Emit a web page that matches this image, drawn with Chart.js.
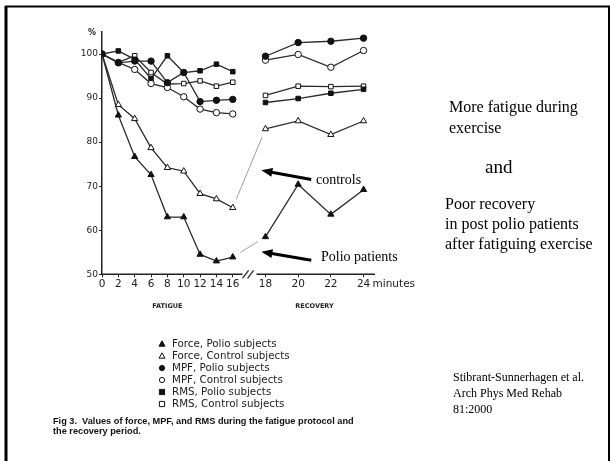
<!DOCTYPE html>
<html>
<head>
<meta charset="utf-8">
<script src="https://cdn.jsdelivr.net/npm/chart.js@4.4.0/dist/chart.umd.min.js"></script>
<style>
  body { margin: 0; background: #fff; }
  canvas { display: block; }
</style>
</head>
<body>
<canvas id="grafico" width="612" height="461"></canvas>
<script>
// Dados do gráfico (minutos e % do valor inicial)
const minutes = [0, 2, 4, 6, 8, 10, 12, 14, 16, 18, 20, 22, 24];
const forcePolio   = [100, 86.1, 76.7, 72.6, 63.0, 63.0, 54.5, 53.0, 53.9, 58.5, 70.4, 63.6, 69.2];
const forceControl = [100, 88.5, 85.3, 78.7, 74.2, 73.4, 68.3, 67.1, 65.1, 83.0, 84.8, 81.7, 84.8];
const mpfPolio     = [100, 98.0, 98.4, 98.4, 93.5, 95.8, 89.2, 89.5, 89.7, 99.5, 102.6, 102.9, 103.6];
const mpfControl   = [100, 98.1, 96.5, 93.3, 92.4, 90.3, 87.5, 86.7, 86.4, 98.6, 99.9, 97.0, 100.8];
const rmsPolio     = [100, 100.7, 98.8, 94.4, 99.6, 95.8, 96.2, 97.7, 96.0, 89.0, 89.9, 91.1, 92.0];
const rmsControl   = [100, 98.1, 99.6, 95.8, 93.2, 93.3, 93.9, 92.7, 93.6, 90.6, 92.7, 92.6, 92.7];
const yTicks = [50, 60, 70, 80, 90, 100];
const lastFatigue = 8; // índice do minuto 16 (antes da quebra do eixo)

// Eixo com quebra: a fase de recuperação tem o dobro da escala
function pos(t) {
  return t <= 16 ? t : 20 + (t - 18) * 2;
}
function pontos(valores) {
  return valores.map((v, i) => ({ x: pos(minutes[i]), y: v }));
}

const linha = '#2a2a2a';
function serie(label, valores, estilo, cheio, liga) {
  return {
    label: label,
    data: pontos(valores),
    liga: liga,
    pointStyle: estilo,
    pointRadius: estilo === 'triangle' ? 3.6 : 3.2,
    pointBackgroundColor: cheio ? '#111' : '#fff',
    pointBorderColor: '#111',
    pointBorderWidth: 1,
    borderColor: linha,
    borderWidth: 1.3,
    tension: 0,
    fill: false,
    segment: {
      // sem linha cheia atravessando a quebra do eixo
      borderColor: ctx => ctx.p0DataIndex === lastFatigue ? 'rgba(0,0,0,0)' : undefined
    }
  };
}

const datasets = [
  serie('Force, Polio subjects', forcePolio, 'triangle', true, true),
  serie('Force, Control subjects', forceControl, 'triangle', false, true),
  serie('MPF, Polio subjects', mpfPolio, 'circle', true, false),
  serie('MPF, Control subjects', mpfControl, 'circle', false, false),
  serie('RMS, Polio subjects', rmsPolio, 'rect', true, false),
  serie('RMS, Control subjects', rmsControl, 'rect', false, false)
];

function seta(ctx, x1, y1, x2, y2) {
  const ang = Math.atan2(y2 - y1, x2 - x1);
  const back = 9;
  ctx.beginPath();
  ctx.moveTo(x1, y1);
  ctx.lineTo(x2 - Math.cos(ang) * back, y2 - Math.sin(ang) * back);
  ctx.lineWidth = 3;
  ctx.strokeStyle = '#000';
  ctx.stroke();
  ctx.beginPath();
  ctx.moveTo(x2, y2);
  ctx.lineTo(x2 - Math.cos(ang) * 11 + Math.sin(ang) * 4.5, y2 - Math.sin(ang) * 11 - Math.cos(ang) * 4.5);
  ctx.lineTo(x2 - Math.cos(ang) * 11 - Math.sin(ang) * 4.5, y2 - Math.sin(ang) * 11 + Math.cos(ang) * 4.5);
  ctx.closePath();
  ctx.fillStyle = '#000';
  ctx.fill();
}

function marcador(ctx, ds, x, y) {
  ctx.save();
  ctx.lineWidth = 1;
  ctx.strokeStyle = '#111';
  ctx.fillStyle = ds.pointBackgroundColor;
  ctx.beginPath();
  if (ds.pointStyle === 'triangle') {
    ctx.moveTo(x, y - 3.2); ctx.lineTo(x + 3, y + 2.2); ctx.lineTo(x - 3, y + 2.2); ctx.closePath();
  } else if (ds.pointStyle === 'circle') {
    ctx.arc(x, y, 2.6, 0, Math.PI * 2);
  } else {
    ctx.rect(x - 2.6, y - 2.6, 5.2, 5.2);
  }
  ctx.fill();
  ctx.stroke();
  ctx.restore();
}

const extras = {
  id: 'extras',
  afterDatasetsDraw(chart) {
    // ligação fina (encurtada) entre 16 e 18 min para a força
    const ctx = chart.ctx;
    ctx.save();
    ctx.strokeStyle = '#777';
    ctx.lineWidth = 0.7;
    chart.data.datasets.forEach((ds, i) => {
      if (!ds.liga) return;
      const pts = chart.getDatasetMeta(i).data;
      const a = pts[lastFatigue], b = pts[lastFatigue + 1];
      const dx = b.x - a.x, dy = b.y - a.y, len = Math.hypot(dx, dy);
      const c = 9 / len;
      ctx.beginPath();
      ctx.moveTo(a.x + dx * c, a.y + dy * c);
      ctx.lineTo(b.x - dx * c, b.y - dy * c);
      ctx.stroke();
    });
    ctx.restore();
  },
  afterDraw(chart) {
    const ctx = chart.ctx;
    const xs = chart.scales.x, ys = chart.scales.y;
    const area = chart.chartArea;
    ctx.save();

    // moldura do slide
    ctx.strokeStyle = '#000';
    ctx.lineWidth = 2;
    ctx.strokeRect(6, 6.5, 603, 470);
    ctx.fillStyle = '#000';
    ctx.fillRect(4.5, 6, 3, 461);

    // eixo x com quebra
    ctx.strokeStyle = '#222';
    ctx.lineWidth = 1.5;
    const yb = area.bottom;
    ctx.beginPath();
    ctx.moveTo(area.left, yb); ctx.lineTo(xs.getPixelForValue(17.2), yb);
    ctx.moveTo(xs.getPixelForValue(18.9), yb); ctx.lineTo(area.right, yb);
    ctx.stroke();
    ctx.lineWidth = 1.2;
    const xq = xs.getPixelForValue(18.05);
    ctx.beginPath();
    ctx.moveTo(xq - 7, yb + 4); ctx.lineTo(xq - 1, yb - 4);
    ctx.moveTo(xq - 2, yb + 4); ctx.lineTo(xq + 4, yb - 4);
    ctx.stroke();

    ctx.fillStyle = '#222';
    ctx.textBaseline = 'middle';
    ctx.font = 'bold 8px "DejaVu Sans"';
    ctx.textAlign = 'center';
    ctx.fillText('%', area.left - 10, area.top + 1);
    ctx.font = '10.5px "DejaVu Sans"';
    ctx.textAlign = 'left';
    ctx.fillText('minutes', xs.getPixelForValue(pos(24)) + 9, yb + 10);

    ctx.font = 'bold 6.5px "DejaVu Sans"';
    ctx.textAlign = 'center';
    ctx.fillText('FATIGUE', xs.getPixelForValue(pos(8)), yb + 32);
    ctx.fillText('RECOVERY', xs.getPixelForValue(pos(21)), yb + 32);

    // setas e rótulos
    seta(ctx, xs.getPixelForValue(25.6), ys.getPixelForValue(71.5), xs.getPixelForValue(19.5), ys.getPixelForValue(73.6));
    seta(ctx, xs.getPixelForValue(25.6), ys.getPixelForValue(53.2), xs.getPixelForValue(19.5), ys.getPixelForValue(55.1));
    ctx.fillStyle = '#000';
    ctx.textAlign = 'left';
    ctx.font = '14px "Liberation Serif"';
    ctx.fillText('controls', 316, 180);
    ctx.fillText('Polio patients', 321, 257);

    // texto à direita
    ctx.font = '16px "Liberation Serif"';
    ctx.fillText('More fatigue during', 449, 108);
    ctx.fillText('exercise', 449, 129);
    ctx.font = '19px "Liberation Serif"';
    ctx.fillText('and', 485, 168);
    ctx.font = '16px "Liberation Serif"';
    ctx.fillText('Poor recovery', 445, 205);
    ctx.fillText('in post polio patients', 445, 225);
    ctx.fillText('after fatiguing exercise', 445, 245);

    ctx.font = '12px "Liberation Serif"';
    ctx.fillText('Stibrant-Sunnerhagen et al.', 453, 378);
    ctx.fillText('Arch Phys Med Rehab', 453, 394);
    ctx.fillText('81:2000', 453, 410);

    // legenda
    ctx.font = '10.3px "DejaVu Sans"';
    chart.data.datasets.forEach((ds, i) => {
      const y = 344 + i * 12;
      marcador(ctx, ds, 162, y);
      ctx.fillStyle = '#222';
      ctx.fillText(ds.label, 172, y + 0.5);
    });

    // legenda da figura
    ctx.fillStyle = '#111';
    ctx.font = 'bold 9.2px "Liberation Sans"';
    ctx.fillText('Fig 3.  Values of force, MPF, and RMS during the fatigue protocol and', 53, 421);
    ctx.fillText('the recovery period.', 53, 431);

    ctx.restore();
  }
};

new Chart(document.getElementById('grafico').getContext('2d'), {
  type: 'line',
  data: { datasets: datasets },
  options: {
    responsive: false,
    animation: false,
    layout: { padding: { left: 62, top: 32, right: 237, bottom: 156.7 } },
    scales: {
      x: {
        type: 'linear',
        min: 0,
        max: 33.4,
        afterFit: s => { s.height = 30; },
        afterBuildTicks: s => { s.ticks = minutes.map(t => ({ value: pos(t) })); },
        ticks: {
          autoSkip: false,
          maxRotation: 0,
          padding: 1,
          color: '#222',
          font: { family: 'DejaVu Sans', size: 10.5 },
          callback: (v, i) => minutes[i]
        },
        grid: { drawOnChartArea: false, tickLength: 3, color: '#222' },
        border: { display: false }
      },
      y: {
        min: 50,
        max: 105,
        afterFit: s => { s.width = 40; },
        afterBuildTicks: s => { s.ticks = yTicks.map(v => ({ value: v })); },
        ticks: {
          padding: 1,
          color: '#222',
          font: { family: 'DejaVu Sans', size: 9 }
        },
        grid: { drawOnChartArea: false, tickLength: 3, color: '#222' },
        border: { display: true, color: '#222', width: 1.5 }
      }
    },
    plugins: {
      legend: { display: false },
      tooltip: { enabled: false }
    }
  },
  plugins: [extras]
});
</script>
</body>
</html>
